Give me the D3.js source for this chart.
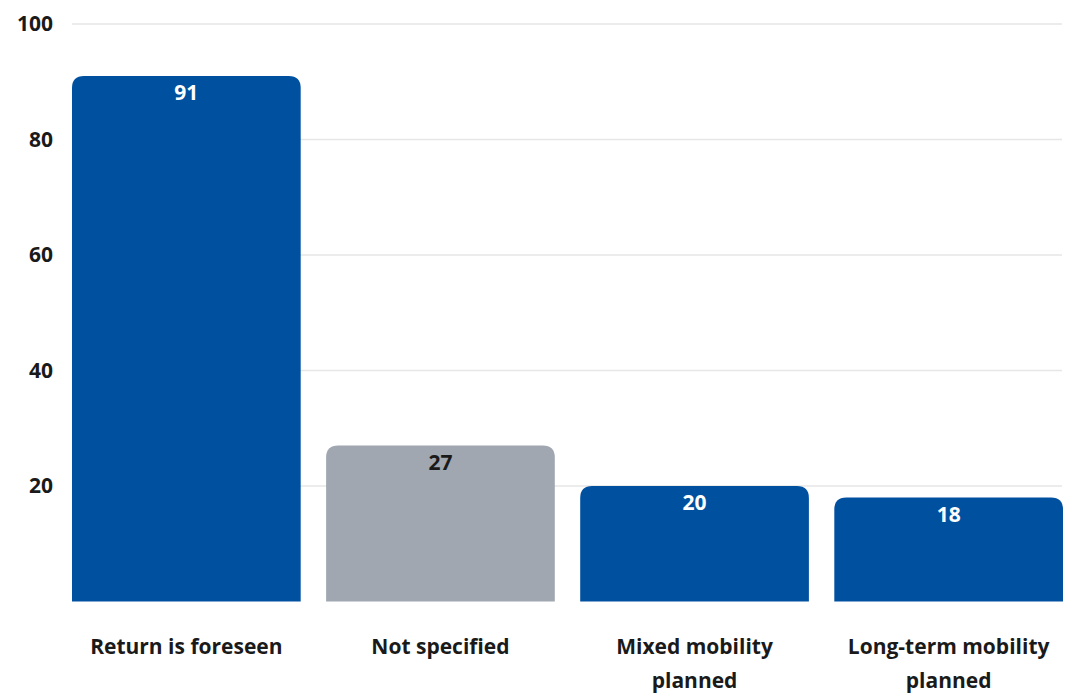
<!DOCTYPE html>
<html>
<head>
<meta charset="utf-8">
<script src="https://cdn.jsdelivr.net/npm/d3@7"></script>
<style>
  html, body { margin: 0; padding: 0; background: #fff; }
  svg { display: block; }
  text { font-family: "Open Sans", "Noto Sans", sans-serif; font-weight: 700; }
</style>
</head>
<body>
<svg id="chart" width="1066" height="693"></svg>
<script>
const categories = [["Return is foreseen"], ["Not specified"], ["Mixed mobility", "planned"], ["Long-term mobility", "planned"]];
const values = [91, 27, 20, 18];
const barColors = ["#0050A0", "#A0A7B0", "#0050A0", "#0050A0"];
const labelColors = ["#ffffff", "#1a1a1a", "#ffffff", "#ffffff"];
const yTicks = [20, 40, 60, 80, 100];

const svg = d3.select("#chart");
const plotLeft = 72, plotRight = 1063, plotTop = 24, plotBottom = 601.5;

const x = d3.scaleBand().domain(d3.range(values.length)).range([plotLeft, plotRight]).paddingInner(0.1).paddingOuter(0);
const y = d3.scaleLinear().domain([0, 100]).range([plotBottom, plotTop]);

// horizontal gridlines
svg.append("g").selectAll("line").data(yTicks).join("line")
  .attr("x1", plotLeft).attr("x2", plotRight - 1)
  .attr("y1", d => y(d)).attr("y2", d => y(d))
  .attr("stroke", "#e6e6e6").attr("stroke-width", 1.5);

// y-axis labels
svg.append("g").selectAll("text").data(yTicks).join("text")
  .attr("x", 53).attr("y", d => y(d)).attr("dy", "0.35em")
  .attr("text-anchor", "end").attr("font-size", 21).attr("fill", "#1a1a1a")
  .text(d => d);

// bars with rounded top corners
const r = 12;
function barPath(i) {
  const x0 = x(i), x1 = x(i) + x.bandwidth(), y0 = y(values[i]), y1 = y(0);
  return `M${x0},${y1}V${y0 + r}Q${x0},${y0} ${x0 + r},${y0}H${x1 - r}Q${x1},${y0} ${x1},${y0 + r}V${y1}Z`;
}
svg.append("g").selectAll("path").data(values).join("path")
  .attr("d", (d, i) => barPath(i))
  .attr("fill", (d, i) => barColors[i]);

// value labels
svg.append("g").selectAll("text").data(values).join("text")
  .attr("x", (d, i) => x(i) + x.bandwidth() / 2)
  .attr("y", d => y(d) + 17).attr("dy", "0.35em")
  .attr("text-anchor", "middle").attr("font-size", 21)
  .attr("fill", (d, i) => labelColors[i])
  .text(d => d);

// category labels
const cat = svg.append("g").selectAll("text").data(categories).join("text")
  .attr("x", (d, i) => x(i) + x.bandwidth() / 2)
  .attr("y", 647)
  .attr("text-anchor", "middle").attr("font-size", 21).attr("fill", "#1a1a1a");
cat.selectAll("tspan").data(d => d).join("tspan")
  .attr("x", function () { return d3.select(this.parentNode).attr("x"); })
  .attr("dy", (d, j) => j === 0 ? "0.35em" : 34)
  .text(d => d);
</script>
</body>
</html>
